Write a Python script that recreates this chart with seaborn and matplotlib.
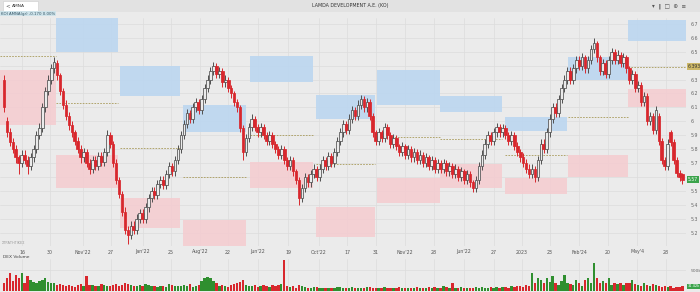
import numpy as np
import pandas as pd
import matplotlib
matplotlib.use("Agg")
import matplotlib.pyplot as plt
import seaborn as sns
from matplotlib.patches import Rectangle

# ---------------- data ----------------
opens = [6.30,6.00,5.92,5.85,5.80,5.74,5.70,5.76,5.72,5.68,
         5.74,5.80,5.90,5.95,6.10,6.22,6.30,6.38,6.42,6.33,
         6.22,6.12,6.04,5.97,5.92,5.86,5.80,5.74,5.78,5.70,
         5.66,5.72,5.68,5.75,5.71,5.78,5.90,5.84,5.70,5.58,
         5.48,5.35,5.22,5.18,5.25,5.22,5.30,5.34,5.30,5.38,
         5.45,5.50,5.47,5.55,5.58,5.54,5.62,5.68,5.64,5.72,
         5.80,5.90,5.98,6.06,6.02,6.10,6.14,6.08,6.16,6.24,
         6.30,6.36,6.40,6.34,6.36,6.28,6.30,6.24,6.20,6.14,
         6.10,5.95,5.78,5.88,5.96,6.02,5.96,5.92,5.96,5.90,
         5.86,5.90,5.84,5.80,5.76,5.80,5.72,5.68,5.72,5.64,
         5.58,5.45,5.52,5.60,5.56,5.62,5.66,5.60,5.66,5.72,
         5.68,5.75,5.70,5.78,5.86,5.92,5.98,5.94,6.02,6.08,
         6.04,6.12,6.16,6.10,6.14,6.04,5.92,5.86,5.92,5.88,
         5.96,5.90,5.84,5.88,5.82,5.78,5.82,5.76,5.80,5.74,
         5.78,5.72,5.76,5.70,5.74,5.68,5.72,5.66,5.70,5.66,
         5.70,5.64,5.68,5.62,5.66,5.60,5.64,5.58,5.62,5.56,
         5.52,5.58,5.68,5.76,5.84,5.90,5.86,5.92,5.96,5.92,
         5.95,5.90,5.86,5.90,5.82,5.78,5.74,5.70,5.66,5.62,
         5.66,5.60,5.72,5.84,5.80,5.92,6.02,6.10,6.06,6.16,
         6.24,6.30,6.36,6.30,6.38,6.44,6.40,6.46,6.38,6.44,
         6.52,6.56,6.46,6.36,6.42,6.34,6.44,6.50,6.44,6.48,
         6.42,6.46,6.38,6.30,6.34,6.24,6.26,6.14,6.18,6.00,
         6.04,5.94,6.04,5.86,5.72,5.68,5.92,5.85,5.72,5.63,5.62]
closes = [6.10,5.92,5.85,5.80,5.74,5.70,5.76,5.72,5.68,5.74,
          5.80,5.90,5.95,6.10,6.22,6.30,6.38,6.43,6.33,6.22,
          6.12,6.04,5.97,5.92,5.86,5.80,5.74,5.78,5.70,5.66,
          5.72,5.68,5.75,5.71,5.78,5.90,5.84,5.70,5.58,5.48,
          5.35,5.22,5.18,5.25,5.22,5.30,5.34,5.30,5.38,5.45,
          5.50,5.47,5.55,5.58,5.54,5.62,5.68,5.64,5.72,5.80,
          5.90,5.98,6.06,6.02,6.10,6.14,6.08,6.16,6.24,6.30,
          6.36,6.40,6.34,6.36,6.28,6.30,6.24,6.20,6.14,6.10,
          5.95,5.78,5.88,5.96,6.02,5.96,5.92,5.96,5.90,5.86,
          5.90,5.84,5.80,5.76,5.80,5.72,5.68,5.72,5.64,5.58,
          5.45,5.52,5.60,5.56,5.62,5.66,5.60,5.66,5.72,5.68,
          5.75,5.70,5.78,5.86,5.92,5.98,5.94,6.02,6.08,6.04,
          6.12,6.16,6.10,6.14,6.04,5.92,5.86,5.92,5.88,5.96,
          5.90,5.84,5.88,5.82,5.78,5.82,5.76,5.80,5.74,5.78,
          5.72,5.76,5.70,5.74,5.68,5.72,5.66,5.70,5.66,5.70,
          5.64,5.68,5.62,5.66,5.60,5.64,5.58,5.62,5.56,5.52,
          5.58,5.68,5.76,5.84,5.90,5.86,5.92,5.96,5.92,5.95,
          5.90,5.86,5.90,5.82,5.78,5.74,5.70,5.66,5.62,5.66,
          5.60,5.72,5.84,5.80,5.92,6.02,6.10,6.06,6.16,6.24,
          6.30,6.36,6.30,6.38,6.44,6.40,6.46,6.38,6.44,6.52,
          6.56,6.46,6.36,6.42,6.34,6.44,6.50,6.44,6.48,6.42,
          6.46,6.38,6.30,6.34,6.24,6.26,6.14,6.18,6.00,6.04,
          5.94,6.08,5.86,5.72,5.68,5.84,5.85,5.72,5.63,5.60,5.58]
highs = [6.33,6.03,5.95,5.88,5.83,5.76,5.79,5.79,5.75,5.77,
         5.83,5.93,5.99,6.13,6.25,6.33,6.41,6.46,6.44,6.35,
         6.24,6.15,6.07,6.00,5.94,5.89,5.83,5.81,5.80,5.73,
         5.75,5.75,5.78,5.78,5.81,5.94,5.92,5.86,5.73,5.60,
         5.50,5.38,5.25,5.28,5.28,5.33,5.37,5.37,5.41,5.48,
         5.53,5.53,5.58,5.61,5.61,5.65,5.71,5.70,5.75,5.83,
         5.93,6.01,6.09,6.08,6.13,6.17,6.16,6.19,6.27,6.33,
         6.39,6.43,6.42,6.39,6.38,6.33,6.32,6.26,6.22,6.16,
         6.12,5.97,5.91,5.99,6.05,6.04,5.98,5.99,5.98,5.92,
         5.93,5.92,5.86,5.82,5.83,5.82,5.74,5.75,5.74,5.66,
         5.60,5.55,5.63,5.62,5.65,5.69,5.68,5.69,5.75,5.74,
         5.78,5.77,5.81,5.89,5.95,6.01,6.00,6.05,6.11,6.10,
         6.15,6.19,6.18,6.17,6.16,6.06,5.94,5.95,5.94,5.99,
         5.98,5.92,5.91,5.90,5.84,5.85,5.84,5.83,5.82,5.81,
         5.80,5.79,5.78,5.77,5.76,5.75,5.74,5.73,5.72,5.73,
         5.72,5.71,5.70,5.69,5.68,5.67,5.66,5.65,5.64,5.58,
         5.61,5.71,5.79,5.87,5.93,5.92,5.95,5.99,5.98,5.98,
         5.97,5.92,5.93,5.92,5.85,5.80,5.77,5.73,5.69,5.69,
         5.68,5.75,5.87,5.87,5.95,6.05,6.13,6.13,6.19,6.27,
         6.33,6.39,6.39,6.41,6.47,6.47,6.49,6.48,6.47,6.55,
         6.60,6.58,6.48,6.45,6.44,6.47,6.53,6.52,6.51,6.50,
         6.49,6.48,6.40,6.37,6.36,6.29,6.28,6.21,6.20,6.07,
         6.06,6.11,6.06,5.88,5.74,5.87,5.94,5.87,5.74,5.65,5.63]
lows = [6.07,5.89,5.82,5.77,5.70,5.62,5.67,5.69,5.62,5.65,
        5.71,5.77,5.87,5.92,6.07,6.19,6.27,6.35,6.30,6.19,
        6.09,6.01,5.94,5.89,5.83,5.77,5.70,5.71,5.67,5.62,
        5.63,5.65,5.65,5.68,5.68,5.75,5.81,5.67,5.55,5.45,
        5.32,5.19,5.12,5.15,5.19,5.19,5.27,5.27,5.27,5.35,
        5.42,5.44,5.44,5.52,5.51,5.51,5.59,5.61,5.61,5.69,
        5.77,5.87,5.95,5.99,5.99,6.07,6.05,6.05,6.13,6.21,
        6.27,6.33,6.31,6.31,6.25,6.25,6.21,6.17,6.11,6.07,
        5.92,5.72,5.75,5.85,5.93,5.93,5.89,5.89,5.87,5.83,
        5.83,5.81,5.77,5.73,5.73,5.69,5.65,5.65,5.61,5.55,
        5.40,5.42,5.49,5.53,5.53,5.59,5.57,5.57,5.63,5.65,
        5.65,5.67,5.67,5.75,5.83,5.89,5.91,5.91,5.99,6.01,
        6.01,6.09,6.07,6.07,6.01,5.89,5.83,5.83,5.85,5.85,
        5.87,5.81,5.81,5.79,5.75,5.75,5.73,5.73,5.71,5.71,
        5.69,5.69,5.67,5.67,5.65,5.65,5.63,5.63,5.63,5.63,
        5.61,5.61,5.59,5.59,5.57,5.57,5.55,5.55,5.53,5.49,
        5.49,5.55,5.65,5.73,5.81,5.83,5.83,5.89,5.89,5.89,
        5.87,5.83,5.83,5.79,5.75,5.71,5.67,5.63,5.59,5.59,
        5.56,5.57,5.69,5.77,5.77,5.89,5.99,6.03,6.03,6.13,
        6.21,6.27,6.27,6.27,6.35,6.37,6.37,6.35,6.35,6.41,
        6.49,6.43,6.33,6.33,6.31,6.31,6.41,6.41,6.41,6.39,
        6.39,6.35,6.27,6.27,6.21,6.21,6.11,6.11,5.97,5.97,
        5.91,5.91,5.83,5.69,5.65,5.65,5.82,5.69,5.60,5.57,5.55]
volumes_k = [180,300,420,250,380,300,430,200,350,260,
             210,180,230,260,300,220,200,180,150,160,
             140,130,150,120,100,140,160,120,360,150,
             150,110,130,160,140,120,110,150,170,130,
             150,200,170,140,110,130,150,120,160,140,
             120,110,100,130,120,100,160,140,120,110,
             130,150,120,170,100,120,140,250,300,330,
             320,240,180,130,150,120,100,140,160,180,
             220,260,150,130,110,140,100,120,150,130,
             100,140,120,150,160,740,120,90,110,80,
             140,110,90,80,70,90,100,80,70,60,
             80,70,60,90,100,80,70,60,90,80,
             70,80,60,100,90,70,60,80,70,90,
             60,80,70,60,90,70,80,60,70,80,
             90,70,60,80,100,70,90,60,80,120,
             90,70,180,80,60,90,70,80,60,70,
             90,80,100,70,80,90,70,100,80,90,
             100,80,120,90,110,130,100,140,120,430,
             200,310,260,180,300,220,360,180,140,250,
             380,200,160,150,260,180,120,260,300,200,
             670,300,200,250,180,300,150,200,160,180,
             150,200,180,260,160,140,120,200,150,130,
             160,140,120,100,130,90,110,80,100,90,120]

# monthly zones: start candle, end candle, supply (blue) low/high, demand (pink) low/high, pivot
zone_start = [-1.4, 17.6, 39.3, 60.7, 83.4, 105.8, 126.4, 147.8, 169.8, 191.2, 211.5]
zone_end   = [17.5, 38.6, 59.7, 82.0, 104.7, 125.8, 147.8, 168.8, 190.8, 211.5, 231.2]
blue_lo = [None, 6.50, 6.18, 5.92, 6.28, 6.02, 6.12, 6.07, 5.93, 6.30, 6.58]
blue_hi = [None, 6.74, 6.40, 6.12, 6.47, 6.19, 6.37, 6.18, 6.03, 6.46, 6.73]
pink_lo = [5.97, 5.52, 5.23, 5.10, 5.52, 5.17, 5.41, 5.52, 5.48, 5.60, 6.10]
pink_hi = [6.37, 5.76, 5.45, 5.29, 5.71, 5.38, 5.59, 5.69, 5.59, 5.76, 6.23]
pivot   = [6.47, 6.13, 5.81, 5.60, 5.90, 5.69, 5.89, 5.87, 5.76, 6.03, 6.393]

price_ticks = [5.2, 5.3, 5.4, 5.5, 5.6, 5.7, 5.8, 5.9, 6.0, 6.1, 6.2, 6.3, 6.4, 6.5, 6.6, 6.7]
date_labels = ["16", "30", "Nov'22", "27", "Jan'22", "25", "Aug'22", "22", "Jun'22", "19", "Oct'22",
               "17", "31", "Nov'22", "28", "Jun'22", "27", "2023", "23", "Feb'24", "20", "May'4", "28"]
date_label_idx = [6.1, 15.6, 26.8, 36.3, 47.1, 56.6, 66.4, 75.9, 86.1, 96.3, 106.8, 116.3,
                  126.1, 136.0, 145.8, 155.9, 166.1, 175.6, 185.1, 194.9, 204.7, 214.6, 224.4]
last_price_label = "5.57"
pivot_label = "6.393"
last_volume_label = "31.42k"

# ---------------- style ----------------
sns.set_theme(style="whitegrid")
plt.rcParams['font.family'] = ['DejaVu Sans']
BG = "#ebebeb"
GRID = "#dcdcdc"
RED = "#d8272d"
UPEDGE = "#505050"
GREEN = "#2f8f2f"

W, H = 700, 292
fig = plt.figure(figsize=(7, 2.92), dpi=100)
fig.patch.set_facecolor(BG)

def fy(py):
    return 1 - py / H

df = pd.DataFrame({"o": opens, "h": highs, "l": lows, "c": closes, "v": volumes_k})
df["i"] = np.arange(len(df))
df["up"] = df["c"] >= df["o"]

# ---------------- price pane ----------------
ax = fig.add_axes([0, fy(246), 686 / W, (246 - 18) / H])
ax.set_facecolor(BG)
ax.set_xlim(-1.36, 231.2)
ax.set_ylim(5.103, 6.743)

for k in range(len(zone_start)):
    s, e = zone_start[k], zone_end[k]
    if blue_lo[k] is not None:
        ax.add_patch(Rectangle((s, blue_lo[k]), e - s, blue_hi[k] - blue_lo[k],
                               facecolor="#bcd6f0", edgecolor="none", alpha=0.9, zorder=1))
    ax.add_patch(Rectangle((s, pink_lo[k]), e - s, pink_hi[k] - pink_lo[k],
                           facecolor="#f4cdd1", edgecolor="none", alpha=0.9, zorder=1))
    xe = 231.2 if k == len(zone_start) - 1 else e
    ax.plot([s, xe], [pivot[k], pivot[k]], ls=(0, (2, 1.5)), lw=0.6, color="#a89a5a", zorder=2)

# wicks
ax.vlines(df["i"], df["l"], df["h"], colors=np.where(df["up"], UPEDGE, RED), lw=0.7, zorder=3)
# bodies
body_lo = np.minimum(df["o"], df["c"])
body_h = np.maximum(np.abs(df["c"] - df["o"]), 0.008)
ax.bar(df["i"], body_h, bottom=body_lo, width=0.9,
       color=np.where(df["up"], BG, RED), edgecolor=np.where(df["up"], UPEDGE, RED),
       linewidth=0.55, zorder=4)

ax.set_yticks(price_ticks)
ax.set_yticklabels([("" if round(t, 1) in (5.6, 6.4) else "%g" % t) for t in price_ticks])
ax.yaxis.tick_right()
ax.tick_params(axis="y", labelsize=3.4, colors="#666666", length=0, pad=3)
ax.set_xticks(date_label_idx)
ax.set_xticklabels([])
ax.tick_params(axis="x", length=0)
ax.grid(True, color=GRID, lw=0.5)
for sp in ax.spines.values():
    sp.set_visible(False)

# right-side highlight labels
ax.text(1.003, pivot[-1], pivot_label, transform=ax.get_yaxis_transform(), fontsize=3.3,
        color="#333333", va="center", ha="left",
        bbox=dict(boxstyle="square,pad=0.25", fc="#cdb868", ec="none"))
ax.text(1.003, closes[-1], last_price_label, transform=ax.get_yaxis_transform(), fontsize=3.3,
        color="white", va="center", ha="left",
        bbox=dict(boxstyle="square,pad=0.25", fc="#3aa34a", ec="none"))
ax.text(0.003, 5.125, "ΣΤΡΑΤΗΓΙΚΕΣ", transform=ax.get_yaxis_transform(), fontsize=2.5,
        color="#999999", va="center")

# x labels
for lab, xi in zip(date_labels, date_label_idx):
    fig.text((4 + 2.95 * xi) / W, fy(252), lab, fontsize=3.4, color="#555555",
             ha="center", va="center")

# ---------------- volume pane ----------------
axv = fig.add_axes([0, fy(291), 686 / W, (291 - 259) / H])
axv.set_facecolor(BG)
df["dir"] = np.where(df["up"], "up", "down")
sns.barplot(data=df, x="i", y="v", hue="dir", palette={"up": GREEN, "down": RED},
            native_scale=True, dodge=False, width=0.8, legend=False, ax=axv,
            edgecolor="none", saturation=1)
axv.set_xlim(-1.36, 231.2)
axv.set_ylim(0, 762)
axv.set_yticks([500])
axv.set_yticklabels(["500k"])
axv.yaxis.tick_right()
axv.tick_params(axis="y", labelsize=3.2, colors="#666666", length=0, pad=3)
axv.set_xticks(date_label_idx)
axv.set_xticklabels([])
axv.tick_params(axis="x", length=0)
axv.set_xlabel("")
axv.set_ylabel("")
axv.grid(True, color=GRID, lw=0.5)
for sp in axv.spines.values():
    sp.set_visible(False)
axv.text(1.002, 110, last_volume_label, transform=axv.get_yaxis_transform(), fontsize=2.6,
         color="white", va="center", ha="left",
         bbox=dict(boxstyle="square,pad=0.15", fc="#3aa34a", ec="none"))
fig.text(3 / W, fy(257.5), "DEX Volume", fontsize=3.2, color="#444444", va="center")

# ---------------- header ----------------
fig.patches.append(Rectangle((0, fy(12)), 1, 12 / H, transform=fig.transFigure,
                             facecolor="#e2e2e2", edgecolor="none", zorder=0))
fig.patches.append(Rectangle((3 / W, fy(10.5)), 35 / W, 9 / H, transform=fig.transFigure,
                             facecolor="white", edgecolor="#cccccc", lw=0.4, zorder=1))
fig.text(5 / W, fy(6), "<", fontsize=4, color="#555555", va="center")
fig.text(12 / W, fy(6), "AMNA", fontsize=3.2, color="#333333", va="center")
fig.text(350 / W, fy(6), "LAMDA DEVELOPMENT A.E. (KO)", fontsize=3.4, color="#333333",
         ha="center", va="center")
fig.text(652 / W, fy(6), "▾  ‖  □  ⊕  ≡", fontsize=4, color="#555555", ha="left", va="center")
fig.text(1 / W, fy(13.5), "ΚΟΙ ΑΜΝΑ(gr) -0.170 0.00%", fontsize=2.8, color="#335566",
         va="center", bbox=dict(boxstyle="square,pad=0.2", fc="#cfe3ea", ec="none"))

fig.savefig("out.png", dpi=100, facecolor=BG)
